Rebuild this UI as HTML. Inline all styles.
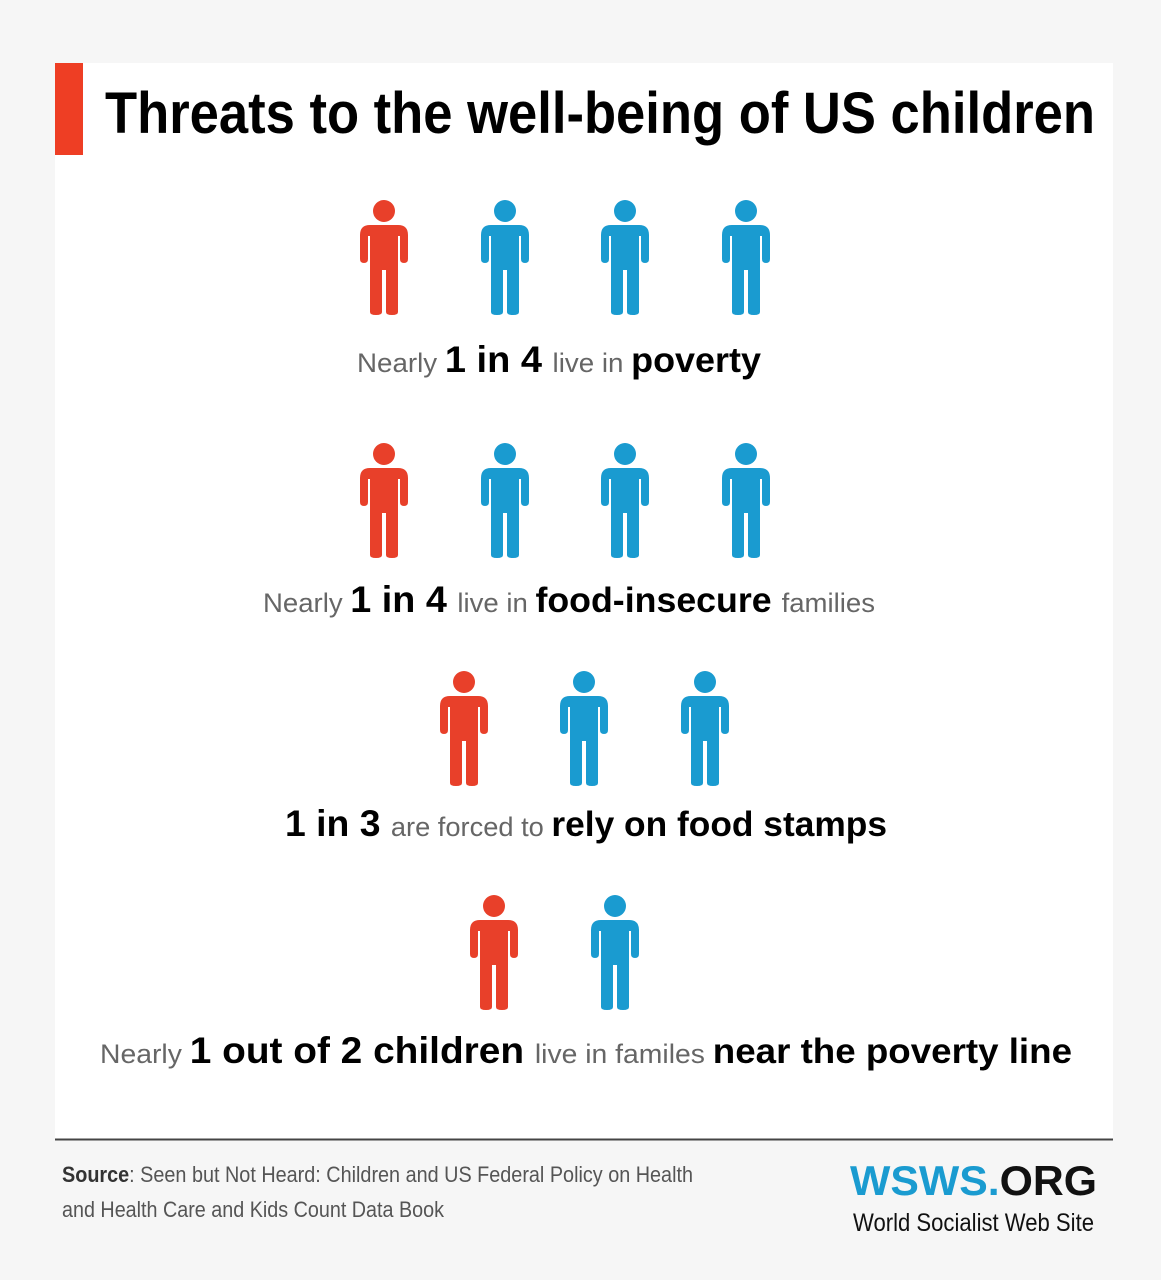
<!DOCTYPE html>
<html><head><meta charset="utf-8"><style>
html,body{margin:0;padding:0;background:#f6f6f6;}
svg{display:block;}
text{font-family:"Liberation Sans Narrow","Liberation Sans",sans-serif;}
</style></head><body>
<svg width="1161" height="1280" viewBox="0 0 1161 1280" xmlns="http://www.w3.org/2000/svg">
<defs>
<g id="p">
<circle cx="24" cy="11" r="11"/>
<path d="M10 25 H38 Q48 25 48 35 V59 Q48 63 44 63 Q40 63 40 59 V36 H38 V112 Q38 115 32 115 Q26 115 26 112 V70 H22 V112 Q22 115 16 115 Q10 115 10 112 V36 H8 V59 Q8 63 4 63 Q0 63 0 59 V35 Q0 25 10 25 Z"/>
</g>
</defs>
<rect x="55" y="63" width="1058" height="1076" fill="#fff"/>
<rect x="55" y="63" width="28" height="92" fill="#ee3e24"/>
<line x1="55" y1="1139.5" x2="1113" y2="1139.5" stroke="#444" stroke-width="2"/>
<text x="105" y="133" font-size="58" font-weight="bold" fill="#000" textLength="990" lengthAdjust="spacingAndGlyphs">Threats to the well-being of US children</text>

<g fill="#e8402a"><use href="#p" x="360" y="200"/><use href="#p" x="360" y="443"/><use href="#p" x="440" y="671"/><use href="#p" x="470" y="895"/></g>
<g fill="#1a9bd0"><use href="#p" x="481" y="200"/><use href="#p" x="601" y="200"/><use href="#p" x="722" y="200"/>
<use href="#p" x="481" y="443"/><use href="#p" x="601" y="443"/><use href="#p" x="722" y="443"/>
<use href="#p" x="560" y="671"/><use href="#p" x="681" y="671"/>
<use href="#p" x="591" y="895"/></g>

<text x="357" y="372" textLength="404" lengthAdjust="spacingAndGlyphs"><tspan font-size="27" fill="#666">Nearly </tspan><tspan font-size="37" font-weight="bold" fill="#000">1 in 4 </tspan><tspan font-size="27" fill="#666">live in </tspan><tspan font-size="35" font-weight="bold" fill="#000">poverty</tspan></text>
<text x="263" y="612" textLength="612" lengthAdjust="spacingAndGlyphs"><tspan font-size="27" fill="#666">Nearly </tspan><tspan font-size="37" font-weight="bold" fill="#000">1 in 4 </tspan><tspan font-size="27" fill="#666">live in </tspan><tspan font-size="35" font-weight="bold" fill="#000">food-insecure </tspan><tspan font-size="27" fill="#666">families</tspan></text>
<text x="285" y="836" textLength="602" lengthAdjust="spacingAndGlyphs"><tspan font-size="37" font-weight="bold" fill="#000">1 in 3 </tspan><tspan font-size="27" fill="#666">are forced to </tspan><tspan font-size="35" font-weight="bold" fill="#000">rely on food stamps</tspan></text>
<text x="100" y="1063" textLength="972" lengthAdjust="spacingAndGlyphs"><tspan font-size="27" fill="#666">Nearly </tspan><tspan font-size="37" font-weight="bold" fill="#000">1 out of 2 children </tspan><tspan font-size="27" fill="#666">live in familes </tspan><tspan font-size="35" font-weight="bold" fill="#000">near the poverty line</tspan></text>

<text x="62" y="1182" font-size="22" fill="#555" textLength="631" lengthAdjust="spacingAndGlyphs"><tspan font-weight="bold" fill="#333">Source</tspan>: Seen but Not Heard: Children and US Federal Policy on Health</text>
<text x="62" y="1217" font-size="22" fill="#555" textLength="382" lengthAdjust="spacingAndGlyphs">and Health Care and Kids Count Data Book</text>
<text x="850" y="1195" font-size="42" font-weight="bold" textLength="247" lengthAdjust="spacingAndGlyphs" style="font-family:'Liberation Sans',sans-serif"><tspan fill="#1a9bd0">WSWS.</tspan><tspan fill="#111">ORG</tspan></text>
<text x="853" y="1231" font-size="25" fill="#111" textLength="241" lengthAdjust="spacingAndGlyphs">World Socialist Web Site</text>
</svg>
</body></html>
